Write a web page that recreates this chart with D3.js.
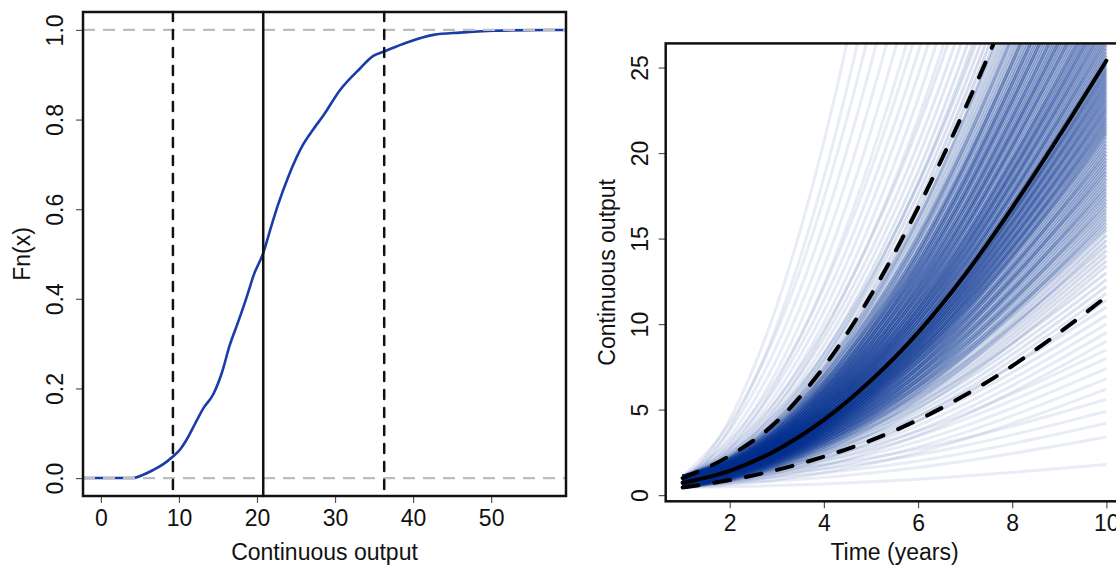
<!DOCTYPE html>
<html>
<head>
<meta charset="utf-8">
<script src="https://cdn.jsdelivr.net/npm/d3@7"></script>
<style>
  body { margin: 0; background: #fff; }
  svg text { font-family: "Liberation Sans", Arial, Helvetica, sans-serif; fill: #111; font-size: 23px; }
</style>
</head>
<body>
<svg id="viz" width="1116" height="566"></svg>
<script>
var ecdfX = [0, 4.1, 5.5, 6.7, 8.0, 9.23, 10.2, 11.0, 12.0, 13.1, 14.4, 15.5, 16.5, 17.6, 18.7, 19.6,
             20.8, 21.8, 22.7, 24.0, 25.9, 27.2, 28.5, 30.6, 33.2, 34.9, 36.3, 39.2, 42.6, 46.0, 50.3, 57.3];
var ecdfF = [0, 0, 0.008, 0.018, 0.031, 0.048, 0.065, 0.086, 0.119, 0.155, 0.187, 0.235, 0.296, 0.349, 0.405, 0.454,
             0.502, 0.560, 0.610, 0.672, 0.744, 0.778, 0.809, 0.865, 0.914, 0.942, 0.952, 0.972, 0.989, 0.994, 0.998, 1.0];
var cdfQuantiles = [9.23, 20.8, 36.3];     // 5%, median, 95%
var cdfRefLevels = [0, 1];
var leftXTicks = [0, 10, 20, 30, 40, 50];
var leftYTicks = [0, 0.2, 0.4, 0.6, 0.8, 1.0];

// ---------- right panel : trajectories over time
var years = [1, 2, 3, 4, 5, 6, 7, 8, 9, 10];
var medianPath = [0.72, 1.42, 2.64, 4.4, 6.7, 9.5, 12.9, 16.8, 21.0, 25.4];
var lowerPath  = [0.45, 0.88, 1.47, 2.25, 3.2, 4.4, 5.85, 7.55, 9.5, 11.6];
var upperPath  = [1.0, 2.3, 4.3, 7.5, 11.7, 16.8, 22.6, 29.0, 36.0, 44.0];
var rightYLim = [0.63, 25.42];
var ensembleStart = [0.45, 0.62, 0.78, 0.95, 1.1];
var ensembleEnd = [
  1.8, 3.4, 4.2, 4.9, 5.6, 6.2, 6.8, 7.4, 8.0, 8.5, 9.0, 9.5, 10.0, 10.5, 11.0, 11.4,
  11.8, 12.2, 12.6, 13.0, 13.4, 13.7, 14.0, 14.3, 14.6, 14.9, 15.2, 15.5, 15.7, 15.9, 16.1, 16.3, 16.5, 16.7, 16.9, 17.1,
  17.3, 17.5, 17.7, 17.9, 18.1, 18.3, 18.5, 18.7, 18.9, 19.1, 19.3, 19.5, 19.7, 19.9, 20.1, 20.3, 20.5, 20.7, 20.9, 21.1,
  21.25, 21.4, 21.55, 21.7, 21.85, 22.0, 22.15, 22.3, 22.45, 22.6, 22.75, 22.9, 23.05, 23.2, 23.35, 23.5, 23.65, 23.8, 23.95, 24.1,
  24.25, 24.4, 24.55, 24.7, 24.85, 25.0, 25.15, 25.3,
  25.5, 25.7, 25.9, 26.1, 26.3, 26.5, 26.7, 26.9, 27.1, 27.3, 27.5, 27.7, 27.9, 28.1, 28.3, 28.5, 28.7, 28.9, 29.1, 29.3,
  29.5, 29.75, 30.0, 30.25, 30.5, 30.75, 31.0, 31.25, 31.5, 31.75, 32.0, 32.25, 32.5, 32.75, 33.0, 33.3, 33.6, 33.9, 34.2, 34.5,
  34.8, 35.1, 35.4, 35.7, 36.0, 36.35, 36.7, 37.05, 37.4, 37.8, 38.2, 38.6, 39.0, 39.5, 40.0, 40.5, 41.0, 41.6, 42.2, 42.8, 43.5,
  44.5, 45.5, 46.5, 47.7, 49, 50.5, 52, 54, 56, 58.5, 61, 64, 67.5, 71, 75, 80, 86, 93, 101, 110, 122, 135
];
var rightXTicks = [2, 4, 6, 8, 10];
var rightYTicks = [0, 5, 10, 15, 20, 25];

var svg = d3.select("#viz");

// R style 4% padding of the data range
function padded(lim) {
  var d = (lim[1] - lim[0]) * 0.04;
  return [lim[0] - d, lim[1] + d];
}

// ================= left panel =================
var L = { left: 83, right: 566, top: 12, bottom: 496 };
var xL = d3.scaleLinear().domain(padded([0, 57.3])).range([L.left, L.right]);
var yL = d3.scaleLinear().domain(padded([0, 1])).range([L.bottom, L.top]);

var left_g = svg.append("g").classed("left-panel", true);

var ecdfPts = ecdfX.map(function(x, i) { return [x, ecdfF[i]]; });
ecdfPts.unshift([xL.domain()[0], 0]);
ecdfPts.push([xL.domain()[1], 1]);

left_g.append("path")
    .datum(ecdfPts)
    .attr("fill", "none")
    .attr("stroke", "#1a3ca8")
    .attr("stroke-width", 2.6)
    .attr("stroke-linejoin", "round")
    .attr("d", d3.line().curve(d3.curveMonotoneX)
      .x(function(d) { return xL(d[0]); }).y(function(d) { return yL(d[1]); }));

left_g.selectAll("line.ref")
    .data(cdfRefLevels)
  .enter().append("line")
    .classed("ref", true)
    .attr("x1", L.left).attr("x2", L.right)
    .attr("y1", function(d) { return yL(d); })
    .attr("y2", function(d) { return yL(d); })
    .attr("stroke", "#bdbdbd")
    .attr("stroke-width", 2.2)
    .attr("stroke-dasharray", "12,8");

left_g.selectAll("line.quant")
    .data(cdfQuantiles)
  .enter().append("line")
    .classed("quant", true)
    .attr("x1", function(d) { return xL(d); })
    .attr("x2", function(d) { return xL(d); })
    .attr("y1", L.top).attr("y2", L.bottom)
    .attr("stroke", "#111")
    .attr("stroke-width", 2.5)
    .attr("stroke-linecap", "round")
    .attr("stroke-dasharray", function(d, i) { return i == 1 ? null : "9,9"; });

// axes
var lxAxis = left_g.append("g")
    .attr("transform", "translate(0," + L.bottom + ")")
    .call(d3.axisBottom(xL).tickValues(leftXTicks).tickSize(7).tickPadding(6.5));
var lyAxis = left_g.append("g")
    .attr("transform", "translate(" + L.left + ",0)")
    .call(d3.axisLeft(yL).tickValues(leftYTicks).tickSize(7).tickFormat(d3.format(".1f")));
lyAxis.selectAll("text")
    .attr("x", null).attr("dy", null)
    .attr("text-anchor", "middle")
    .attr("transform", "translate(-20,0) rotate(-90)");

left_g.append("rect")
    .attr("x", L.left).attr("y", L.top)
    .attr("width", L.right - L.left).attr("height", L.bottom - L.top)
    .attr("fill", "none").attr("stroke", "#111").attr("stroke-width", 2.5);

left_g.append("text")
    .attr("x", (L.left + L.right) / 2).attr("y", 560)
    .attr("text-anchor", "middle")
    .text("Continuous output");
left_g.append("text")
    .attr("transform", "translate(29.5," + ((L.top + L.bottom) / 2) + ") rotate(-90)")
    .attr("text-anchor", "middle")
    .text("Fn(x)");

// ================= right panel =================
var R = { left: 665.7, right: 1123.3, top: 43.4, bottom: 501.3 };
var xR = d3.scaleLinear().domain(padded([1, 10])).range([R.left, R.right]);
var yR = d3.scaleLinear().domain(padded(rightYLim)).range([R.bottom, R.top]);

var right_g = svg.append("g").classed("right-panel", true);

right_g.append("clipPath").attr("id", "plot-clip")
  .append("rect")
    .attr("x", R.left).attr("y", R.top)
    .attr("width", R.right - R.left).attr("height", R.bottom - R.top);

var plot_g = right_g.append("g").attr("clip-path", "url(#plot-clip)");

// each trajectory follows the growth profile of the median, from its start to its end value
var shape = medianPath.map(function(m) {
  return (m - medianPath[0]) / (medianPath[medianPath.length - 1] - medianPath[0]);
});
var ensemble = ensembleEnd.map(function(e, i) {
  var s = ensembleStart[i % ensembleStart.length];
  return years.map(function(t, k) { return [t, s + (e - s) * shape[k]]; });
});
// faint where trajectories are sparse, stronger where many overlap
var logEnd = ensembleEnd.map(Math.log);
var neighbours = logEnd.map(function(a) {
  return logEnd.filter(function(b) { return Math.abs(a - b) < 0.12; }).length;
});

var lineR = d3.line().curve(d3.curveMonotoneX)
    .x(function(d) { return xR(d[0]); }).y(function(d) { return yR(d[1]); });

plot_g.selectAll("path.traj")
    .data(ensemble)
  .enter().append("path")
    .classed("traj", true)
    .attr("fill", "none")
    .attr("stroke", "#03308f")
    .attr("stroke-width", 3)
    .attr("stroke-opacity", function(d, i) { return Math.max(0.09, Math.min(0.32, 0.04 + 0.012 * neighbours[i])); })
    .attr("d", lineR);

var summary = [
  { values: lowerPath, dash: "16,16" },
  { values: upperPath, dash: "16,16" },
  { values: medianPath, dash: null }
];
plot_g.selectAll("path.summary")
    .data(summary)
  .enter().append("path")
    .classed("summary", true)
    .attr("fill", "none")
    .attr("stroke", "#000")
    .attr("stroke-width", 4)
    .attr("stroke-linecap", "round")
    .attr("stroke-linejoin", "round")
    .attr("stroke-dasharray", function(d) { return d.dash; })
    .attr("d", function(d) { return lineR(years.map(function(t, k) { return [t, d.values[k]]; })); });

var rxAxis = right_g.append("g")
    .attr("transform", "translate(0," + R.bottom + ")")
    .call(d3.axisBottom(xR).tickValues(rightXTicks).tickSize(7).tickPadding(6));
var ryAxis = right_g.append("g")
    .attr("transform", "translate(" + R.left + ",0)")
    .call(d3.axisLeft(yR).tickValues(rightYTicks).tickSize(7));
ryAxis.selectAll("text")
    .attr("x", null).attr("dy", null)
    .attr("text-anchor", "middle")
    .attr("transform", "translate(-17.7,0) rotate(-90)");

right_g.append("rect")
    .attr("x", R.left).attr("y", R.top)
    .attr("width", R.right - R.left).attr("height", R.bottom - R.top)
    .attr("fill", "none").attr("stroke", "#111").attr("stroke-width", 2.5);

right_g.append("text")
    .attr("x", (R.left + R.right) / 2).attr("y", 560)
    .attr("text-anchor", "middle")
    .text("Time (years)");
right_g.append("text")
    .attr("transform", "translate(615," + ((R.top + R.bottom) / 2) + ") rotate(-90)")
    .attr("text-anchor", "middle")
    .text("Continuous output");

// R style axes: no axis line, thin grey ticks
svg.selectAll(".domain").remove();
svg.selectAll(".tick line").attr("stroke", "#555").attr("stroke-width", 1.2);
svg.selectAll(".tick text").attr("fill", "#111").style("font-size", "23px");
</script>
</body>
</html>
